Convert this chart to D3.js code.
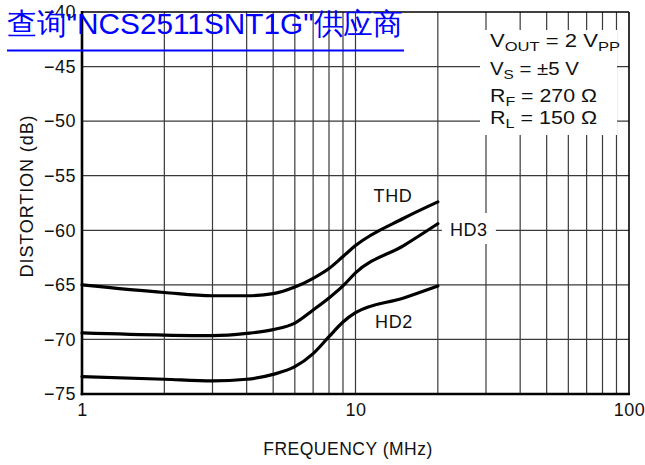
<!DOCTYPE html>
<html><head><meta charset="utf-8">
<script src="https://cdn.jsdelivr.net/npm/d3@7"></script>
<style>body{margin:0;background:#fff}svg{display:block}text{font-family:"Liberation Sans",Arial,Helvetica,sans-serif}</style>
</head><body><svg id="c" width="645" height="465"></svg>
<script>
// ---- data ----
const freqs = [1, 2, 3, 4, 5, 6, 7, 8, 9, 10, 15, 20];
const thd = [-65.0, -65.7, -66.0, -66.0, -65.8, -65.2, -64.4, -63.5, -62.4, -61.4, -58.9, -57.4];
const hd3 = [-69.4, -69.6, -69.65, -69.45, -69.1, -68.5, -67.3, -66.2, -65.1, -63.9, -61.4, -59.4];
const hd2 = [-73.4, -73.65, -73.8, -73.65, -73.2, -72.5, -71.3, -69.75, -68.4, -67.55, -66.2, -65.1];
const yTicks = [-40, -45, -50, -55, -60, -65, -70, -75];
const xTickLabels = [1, 10, 100];
const xGrid = [2, 3, 4, 5, 6, 7, 8, 9, 10, 20, 30, 40, 50, 60, 70, 80, 90];
const yGrid = [-45, -50, -55, -60, -65, -70];
const legendLines = [
  [["V", ""], ["OUT", "sub"], [" = 2 V", ""], ["PP", "sub"]],
  [["V", ""], ["S", "sub"], [" = \u00B15 V", ""]],
  [["R", ""], ["F", "sub"], [" = 270 \u03A9", ""]],
  [["R", ""], ["L", "sub"], [" = 150 \u03A9", ""]]
];
const legendWidths = [130, 89, 107, 107];
const watermark = "\u67E5\u8BE2\"NCS2511SNT1G\"\u4F9B\u5E94\u5546";

// ---- layout ----
const L = 82, R = 629, T = 12, B = 394;
const svg = d3.select("#c");
const x = d3.scaleLog().domain([1, 100]).range([L, R]);
const y = d3.scaleLinear().domain([-75, -40]).range([B, T]);

// grid
const g = svg.append("g");
g.selectAll(".vg").data(xGrid).join("line")
  .attr("x1", d => x(d)).attr("x2", d => x(d)).attr("y1", T).attr("y2", B)
  .attr("stroke", "#3a3a3a").attr("stroke-width", 1.2);
g.selectAll(".hg").data(yGrid).join("line")
  .attr("x1", L).attr("x2", R).attr("y1", d => y(d)).attr("y2", d => y(d))
  .attr("stroke", "#3a3a3a").attr("stroke-width", 1.2);

// white boxes (legend + HD3 label)
svg.append("rect").attr("x", 480).attr("y", 30).attr("width", 137).attr("height", 105).attr("fill", "#fff");
svg.append("rect").attr("x", x(20) + 4).attr("y", 213).attr("width", 54).attr("height", 31).attr("fill", "#fff");

// frame
svg.append("line").attr("x1", L).attr("x2", R).attr("y1", T).attr("y2", T).attr("stroke", "#000").attr("stroke-width", 1.6);
svg.append("line").attr("x1", R).attr("x2", R).attr("y1", T).attr("y2", B).attr("stroke", "#000").attr("stroke-width", 1.6);
svg.append("line").attr("x1", L).attr("x2", L).attr("y1", T - 1).attr("y2", B + 1.3).attr("stroke", "#000").attr("stroke-width", 2.6);
svg.append("line").attr("x1", L - 1.3).attr("x2", R + 1).attr("y1", B).attr("y2", B).attr("stroke", "#000").attr("stroke-width", 2.6);

// axes labels
const yAxis = d3.axisLeft(y).tickValues(yTicks).tickSize(0).tickPadding(6)
  .tickFormat(d => "\u2212" + Math.abs(d));
const ya = svg.append("g").attr("transform", `translate(${L},0)`).call(yAxis);
ya.select(".domain").remove();
ya.selectAll("text").attr("font-size", 18).attr("letter-spacing", 0.5).attr("fill", "#111").attr("font-family", null);

const xAxis = d3.axisBottom(x).tickValues(xTickLabels).tickSize(0).tickPadding(9)
  .tickFormat(d3.format("d"));
const xa = svg.append("g").attr("transform", `translate(0,${B})`).call(xAxis);
xa.select(".domain").remove();
xa.selectAll("text").attr("font-size", 18).attr("letter-spacing", 0.5).attr("fill", "#111").attr("font-family", null);

svg.append("text").attr("x", 348).attr("y", 455).attr("text-anchor", "middle")
  .attr("font-size", 17.5).attr("letter-spacing", 0.5).attr("fill", "#111").text("FREQUENCY (MHz)");
svg.append("text").attr("transform", "translate(33,196) rotate(-90)").attr("text-anchor", "middle")
  .attr("font-size", 18).attr("letter-spacing", 0.9).attr("fill", "#111").text("DISTORTION (dB)");

// curves
const series = [thd, hd3, hd2];
const line = d3.line().x((d, i) => x(freqs[i])).y(d => y(d)).curve(d3.curveMonotoneX);
svg.selectAll(".curve").data(series).join("path")
  .attr("d", d => line(d)).attr("fill", "none").attr("stroke", "#000").attr("stroke-width", 3.2)
  .attr("stroke-linecap", "round");

// curve labels
const lab = (tx, ty, s) => svg.append("text").attr("x", tx).attr("y", ty).attr("text-anchor", "middle")
  .attr("font-size", 18).attr("letter-spacing", 0.6).attr("fill", "#111").text(s);
lab(393, 202, "THD");
lab(x(20) + 31, 236, "HD3");
lab(394, 328, "HD2");

// legend
const lgY = [47, 75, 102, 124];
legendLines.forEach((parts, i) => {
  const t = svg.append("text").attr("x", 490).attr("y", lgY[i]).attr("font-size", 18).attr("fill", "#111")
    .attr("textLength", legendWidths[i]).attr("lengthAdjust", "spacingAndGlyphs");
  let prevSub = false;
  parts.forEach(([s, k]) => {
    const ts = t.append("tspan").text(s);
    if (k === "sub") { ts.attr("font-size", 13.5).attr("dy", prevSub ? 0 : 4); prevSub = true; }
    else { if (prevSub) ts.attr("dy", -4); prevSub = false; }
  });
});

// watermark link text
svg.append("text").attr("x", 7).attr("y", 34)
  .attr("font-size", 30).attr("fill", "#0000ff")
  .attr("font-family", "'Liberation Sans', Arial, 'Noto Sans CJK SC', sans-serif")
  .attr("textLength", 396).attr("lengthAdjust", "spacingAndGlyphs")
  .text(watermark);
svg.append("line").attr("x1", 7).attr("x2", 404).attr("y1", 50.5).attr("y2", 50.5)
  .attr("stroke", "#0000ff").attr("stroke-width", 2);
</script></body></html>
